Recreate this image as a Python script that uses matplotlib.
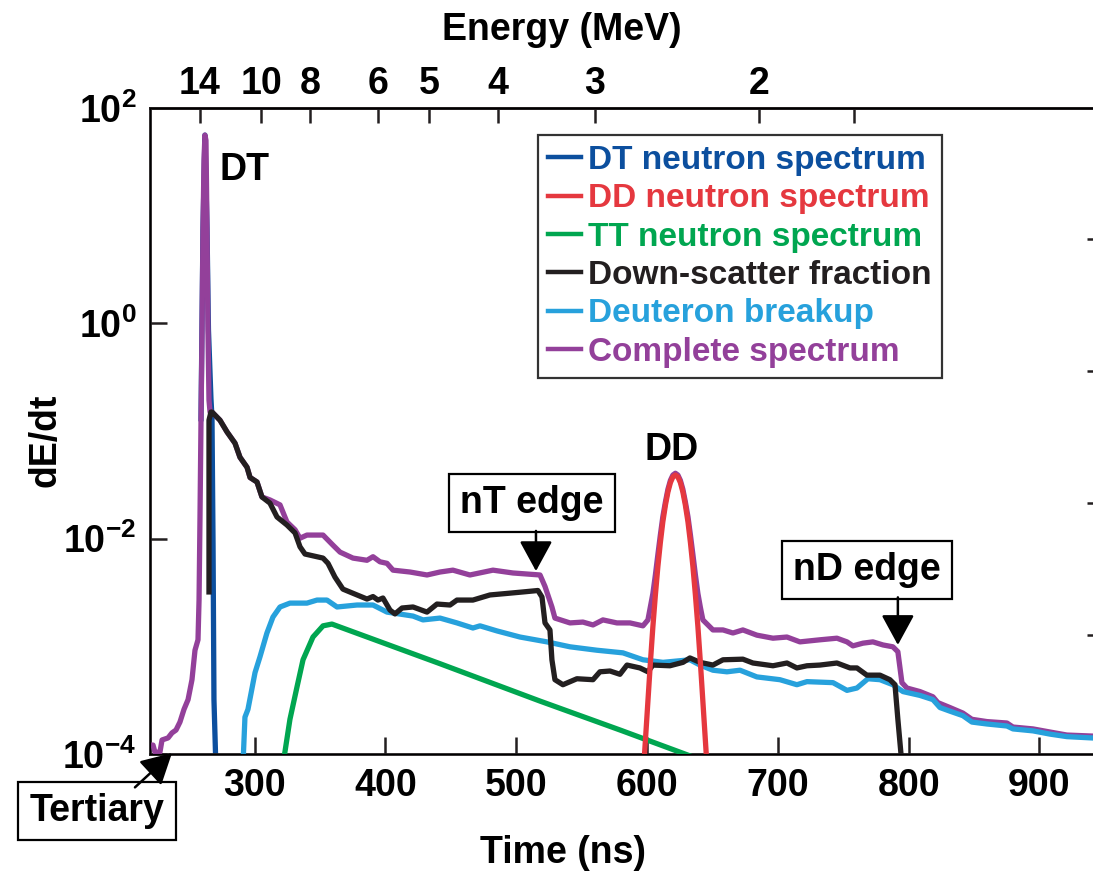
import matplotlib
matplotlib.use("Agg")
import matplotlib.pyplot as plt
from matplotlib.ticker import NullLocator, NullFormatter

plt.rcParams['font.family'] = ['Liberation Sans', 'DejaVu Sans']
plt.rcParams['font.weight'] = 'bold'
plt.rcParams['mathtext.fontset'] = 'custom'
plt.rcParams['mathtext.rm'] = 'Liberation Sans:bold'
plt.rcParams['mathtext.it'] = 'Liberation Sans:bold'
plt.rcParams['mathtext.bf'] = 'Liberation Sans:bold'
plt.rcParams['mathtext.default'] = 'rm'

# ---------------- data (time in ns, dE/dt) ----------------
dt_t = [259.0, 260.5, 262.0, 263.6, 264.7, 266.6, 267.4, 268.2, 268.9, 270.1, 270.6]
dt_v = [0.13, 7.4, 56, 7.4, 0.87, 0.2, 0.132, 9e-3, 3.2e-4, 1e-4, 7e-5]

dd_t = [597.6, 600.7, 602.6, 604.5, 606.4, 608.3, 610.2, 612.1, 614.1, 616.0, 617.9, 619.8, 621.7,
        623.6, 625.5, 627.4, 629.3, 631.3, 633.2, 635.1, 637.0, 638.9, 640.8, 642.7, 645.8]
dd_v = [8e-5, 3.1e-4, 7.1e-4, 1.53e-3, 3.0e-3, 5.5e-3, 9.2e-3, 0.01435, 0.0206, 0.0272, 0.0332, 0.0375, 0.039,
        0.0375, 0.0332, 0.0272, 0.0206, 0.01435, 9.2e-3, 5.5e-3, 3.0e-3, 1.53e-3, 7.1e-4, 3.1e-4, 8e-5]

tt_t = [321.7, 327.0, 332.4, 337.0, 344.6, 352.3, 359.1, 365.3, 441.7, 518.2, 580.0, 629.0, 640.0]
tt_v = [8e-5, 2.1e-4, 4.2e-4, 7.5e-4, 1.22e-3, 1.55e-3, 1.61e-3, 1.51e-3, 6.9e-4, 3.1e-4, 1.66e-4, 1.0e-4, 8.9e-5]

ds_t = [265.1, 265.1, 266.6, 267.4, 273.5, 278.9, 285.0, 288.8, 294.2, 296.5, 301.8, 305.6, 311.7,
        317.1, 324.7, 330.9, 334.7, 338.5, 352.3, 356.1, 361.4, 367.5, 378.3, 385.9, 390.5, 394.3,
        398.1, 403.5, 407.3, 412.7, 421.1, 431.8, 439.4, 449.4, 454.7, 466.9, 479.9, 492.9, 505.2,
        516.6, 519.7, 522.0, 525.8, 527.3, 529.6, 535.7, 546.4, 558.7, 564.0, 571.7, 579.3, 584.7,
        594.6, 600.7, 604.5, 617.5, 627.5, 632.8, 640.5, 650.4, 658.1, 673.3, 681.0, 696.3, 707.0,
        714.6, 722.3, 732.2, 745.2, 755.2, 760.5, 768.1, 778.1, 785.7, 789.6, 791.8, 794.9]
ds_v = [3.2e-3, 0.126, 0.150, 0.150, 0.126, 0.098, 0.077, 0.057, 0.046, 0.037, 0.0336, 0.0244, 0.0214,
        0.0159, 0.0134, 0.0113, 0.0084, 0.0072, 0.0066, 0.0059, 0.0044, 0.0034, 0.0030, 0.00275, 0.0029, 0.00269,
        0.00281, 0.00217, 0.00200, 0.00227, 0.00232, 0.00208, 0.00247, 0.00242, 0.00269, 0.00269, 0.0030, 0.0031, 0.0032,
        0.0033, 0.00287, 0.00165, 0.00142, 7.5e-4, 4.9e-4, 4.4e-4, 5.0e-4, 4.9e-4, 5.8e-4, 5.9e-4, 5.5e-4, 6.7e-4,
        6.3e-4, 5.8e-4, 6.7e-4, 6.6e-4, 7.1e-4, 7.8e-4, 7.1e-4, 6.7e-4, 7.5e-4, 7.6e-4, 7.0e-4, 6.6e-4, 7.0e-4,
        6.3e-4, 6.6e-4, 6.7e-4, 7.0e-4, 6.3e-4, 6.3e-4, 5.4e-4, 5.4e-4, 4.9e-4, 4.4e-4, 2.1e-4, 8e-5]

db_t = [291.1, 292.6, 294.9, 300.3, 304.1, 309.4, 314.0, 319.4, 327.0, 340.0, 347.7, 355.3, 363.0,
        378.3, 390.5, 401.2, 421.1, 428.7, 441.7, 454.7, 466.9, 472.3, 485.3, 502.9, 523.5, 541.1,
        561.7, 581.6, 596.9, 612.2, 632.8, 640.5, 650.4, 661.1, 671.1, 684.0, 701.6, 714.6, 722.3,
        742.2, 752.9, 760.5, 768.9, 778.1, 788.0, 795.7, 808.7, 818.6, 824.0, 831.6, 841.5, 848.4,
        859.9, 875.2, 879.8, 895.1, 908.1, 921.0, 945.0]
db_v = [8e-5, 2.2e-4, 2.6e-4, 5.7e-4, 8.0e-4, 1.33e-3, 1.87e-3, 2.32e-3, 2.52e-3, 2.52e-3, 2.69e-3, 2.69e-3, 2.32e-3,
        2.42e-3, 2.42e-3, 2.08e-3, 1.91e-3, 1.76e-3, 1.83e-3, 1.65e-3, 1.48e-3, 1.55e-3, 1.39e-3, 1.22e-3, 1.10e-3, 9.9e-4,
        9.2e-4, 8.7e-4, 7.5e-4, 7.1e-4, 7.5e-4, 6.7e-4, 6.0e-4, 5.8e-4, 6.0e-4, 5.2e-4, 4.9e-4, 4.4e-4, 4.7e-4,
        4.6e-4, 3.9e-4, 4.1e-4, 5.0e-4, 4.9e-4, 4.4e-4, 3.8e-4, 3.5e-4, 3.2e-4, 2.7e-4, 2.5e-4, 2.27e-4, 1.98e-4,
        1.90e-4, 1.82e-4, 1.71e-4, 1.64e-4, 1.53e-4, 1.45e-4, 1.40e-4]

cs_t = [220.0, 222.3, 223.8, 227.6, 229.2, 233.8, 236.8, 239.9, 242.9, 246.0, 249.1, 252.1, 254.4,
        256.7, 257.5, 258.2, 259.0, 259.8, 260.5, 261.3, 262.0, 262.8, 263.6, 264.3, 265.1, 265.9,
        267.4, 273.5, 278.9, 285.0, 288.8, 294.2, 296.5, 301.8, 305.6, 311.7, 319.4, 324.7, 330.9,
        334.7, 340.0, 352.3, 359.9, 365.3, 375.2, 385.9, 390.5, 395.8, 401.2, 405.8, 418.8, 431.8,
        441.7, 451.6, 464.6, 482.2, 497.5, 518.2, 522.0, 527.3, 529.6, 541.1, 551.0, 558.7, 566.3,
        577.0, 587.0, 596.9, 600.7, 604.5, 606.4, 608.3, 610.2, 612.1, 614.1, 616.0, 617.9, 619.8,
        621.7, 623.6, 625.5, 627.4, 629.3, 631.3, 633.2, 635.1, 637.0, 638.9, 640.8, 642.7,
        650.4, 658.1, 665.7, 673.3, 684.0, 696.3, 707.0, 716.9, 732.2, 745.2, 752.9, 757.4,
        765.1, 772.7, 780.4, 788.0, 791.8, 794.9, 798.7, 808.7, 818.6, 822.4, 831.6, 841.5, 848.4,
        859.9, 875.2, 879.8, 895.1, 908.1, 921.0, 945.0]
cs_v = [1.21e-4, 1.21e-4, 1.04e-4, 1.04e-4, 1.35e-4, 1.41e-4, 1.57e-4, 1.67e-4, 1.98e-4, 2.6e-4, 3.2e-4, 4.9e-4, 9.2e-4,
        1.15e-3, 2.69e-3, 0.0149, 0.126, 0.87, 7.4, 33, 56, 50, 7.4, 0.87, 0.194, 0.150,
        0.150, 0.126, 0.098, 0.077, 0.057, 0.046, 0.037, 0.0336, 0.0244, 0.0229, 0.0206, 0.0143, 0.0121,
        0.0101, 0.0108, 0.0108, 0.0087, 0.0075, 0.0066, 0.0063, 0.0068, 0.0061, 0.0059, 0.0051, 0.0049, 0.0046,
        0.0049, 0.0051, 0.0046, 0.0051, 0.0048, 0.0046, 0.0036, 0.00232, 0.00183, 0.00165, 0.00168, 0.00158, 0.00176,
        0.00165, 0.00165, 0.00155, 0.00176, 0.0031, 0.0046, 0.0071, 0.0108, 0.016, 0.022, 0.0288, 0.0348, 0.039,
        0.0405, 0.039, 0.0348, 0.0288, 0.022, 0.016, 0.0108, 0.0071, 0.0046, 0.0031, 0.0023, 0.00176,
        0.00142, 0.00142, 0.00133, 0.00142, 0.00127, 0.00119, 0.00122, 0.00110, 0.00115, 0.00119, 0.00110, 0.00101,
        0.00107, 0.00110, 0.00103, 9.9e-4, 8.9e-4, 4.6e-4, 4.1e-4, 3.8e-4, 3.4e-4, 3.0e-4, 2.7e-4, 2.4e-4, 2.1e-4,
        2.0e-4, 1.94e-4, 1.78e-4, 1.71e-4, 1.60e-4, 1.50e-4, 1.46e-4]

x_ticks = [300, 400, 500, 600, 700, 800, 900]
y_ticks = [1e-4, 1e-2, 1e0, 1e2]
y_tick_labels = [r'$10^{-4}$', r'$10^{-2}$', r'$10^{0}$', r'$10^{2}$']
energy_tick_times = [258.2, 304.9, 342.3, 394.3, 433.3, 486.0, 560.2, 685.6, 758.2]
energy_tick_labels = ['14', '10', '8', '6', '5', '4', '3', '2', '']
right_ticks = [0, 1, 2, 3]

C_DT = '#0c4f9e'
C_DD = '#e5383f'
C_TT = '#00a650'
C_DS = '#231f20'
C_DB = '#27a1dc'
C_CS = '#93409a'
K = '#231f20'

W, H = 1093, 872
fig = plt.figure(figsize=(W / 100, H / 100), dpi=100)
ax = fig.add_axes([150 / W, 1 - 754 / H, (1104 - 150) / W, (754 - 108) / H])

lw = 3.8
ax.plot(dt_t, dt_v, color=C_DT, lw=lw, zorder=2, label='DT neutron spectrum')
ax.plot(dd_t, dd_v, color=C_DD, lw=lw, zorder=7, label='DD neutron spectrum')
ax.plot(tt_t, tt_v, color=C_TT, lw=lw, zorder=4, label='TT neutron spectrum')
ax.plot(ds_t, ds_v, color=C_DS, lw=lw, zorder=6, label='Down-scatter fraction')
ax.plot(db_t, db_v, color=C_DB, lw=lw, zorder=5, label='Deuteron breakup')
ax.plot(cs_t, cs_v, color=C_CS, lw=lw, zorder=3, label='Complete spectrum')

ax.set_yscale('log')
ax.set_xlim(220, 949.4)
ax.set_ylim(1e-4, 1e2)
ax.set_xticks(x_ticks)
ax.set_xticklabels([str(v) for v in x_ticks])
ax.set_yticks(y_ticks)
ax.set_yticklabels(y_tick_labels)
ax.yaxis.set_minor_locator(NullLocator())
ax.tick_params(axis='both', direction='in', length=12, width=1.8, color=K, labelsize=27)
ax.tick_params(axis='x', pad=10)
ax.tick_params(axis='y', pad=10)
for s in ax.spines.values():
    s.set_linewidth(2.0)
    s.set_color(K)

top = ax.secondary_xaxis('top')
top.set_xticks(energy_tick_times)
top.set_xticklabels(energy_tick_labels)
top.tick_params(direction='in', length=11, width=1.8, color=K, labelsize=27, pad=4)
top.spines['top'].set_linewidth(2.0)

ax2 = ax.twinx()
ax2.set_ylim(-0.9015, 3.992)
ax2.set_yticks(right_ticks)
ax2.yaxis.set_major_formatter(NullFormatter())
ax2.tick_params(axis='y', direction='in', length=12, width=1.8, color=K)
ax2.set_zorder(0)

fig.text(563 / W, 1 - 853 / H, 'Time (ns)', ha='center', va='center', fontsize=27, fontweight='bold')
fig.text(562 / W, 1 - 30 / H, 'Energy (MeV)', ha='center', va='center', fontsize=27, fontweight='bold')
fig.text(45 / W, 1 - 440 / H, 'dE/dt', ha='center', va='center', rotation=90, fontsize=27, fontweight='bold')

ax.text(292.6, 26.5, 'DT', ha='center', va='center', fontsize=27, fontweight='bold', zorder=10)
ax.text(619.1, 0.0667, 'DD', ha='center', va='center', fontsize=27, fontweight='bold', zorder=10)

box = dict(boxstyle='square,pad=0.3', fc='white', ec='black', lw=1.6)
arrow = dict(arrowstyle='-|>,head_length=0.55,head_width=0.3', color='black', lw=1.8,
             mutation_scale=34, shrinkA=0, shrinkB=0)

ax.text(512.0, 0.0214, 'nT edge', ha='center', va='center', fontsize=27, fontweight='bold', bbox=box, zorder=10)
ax.annotate('', xy=(515.1, 0.0050), xytext=(515.1, 0.0118), arrowprops=arrow, zorder=10)

ax.text(768.1, 0.00512, 'nD edge', ha='center', va='center', fontsize=27, fontweight='bold', bbox=box, zorder=10)
ax.annotate('', xy=(791.8, 0.00103), xytext=(791.8, 0.00285), arrowprops=arrow, zorder=10)

ax.text(179.5, 2.95e-5, 'Tertiary', ha='center', va='center', fontsize=27, fontweight='bold', bbox=box,
        zorder=10, clip_on=False)
ax.annotate('', xy=(236.8, 1.02e-4), xytext=(208.5, 4.9e-5), arrowprops=arrow,
            annotation_clip=False, zorder=10)

leg = ax.legend(loc='upper left', bbox_to_anchor=((538 - 150) / 954, (754 - 135) / 646),
                borderaxespad=0, fontsize=24, frameon=True, fancybox=False, edgecolor='black',
                handlelength=1.0, handletextpad=0.2, labelspacing=0.22, borderpad=0.3,
                labelcolor='linecolor')
leg.get_frame().set_linewidth(1.6)
leg.set_zorder(20)
for line in leg.get_lines():
    line.set_linewidth(3.2)

fig.savefig('out.png', dpi=100)
